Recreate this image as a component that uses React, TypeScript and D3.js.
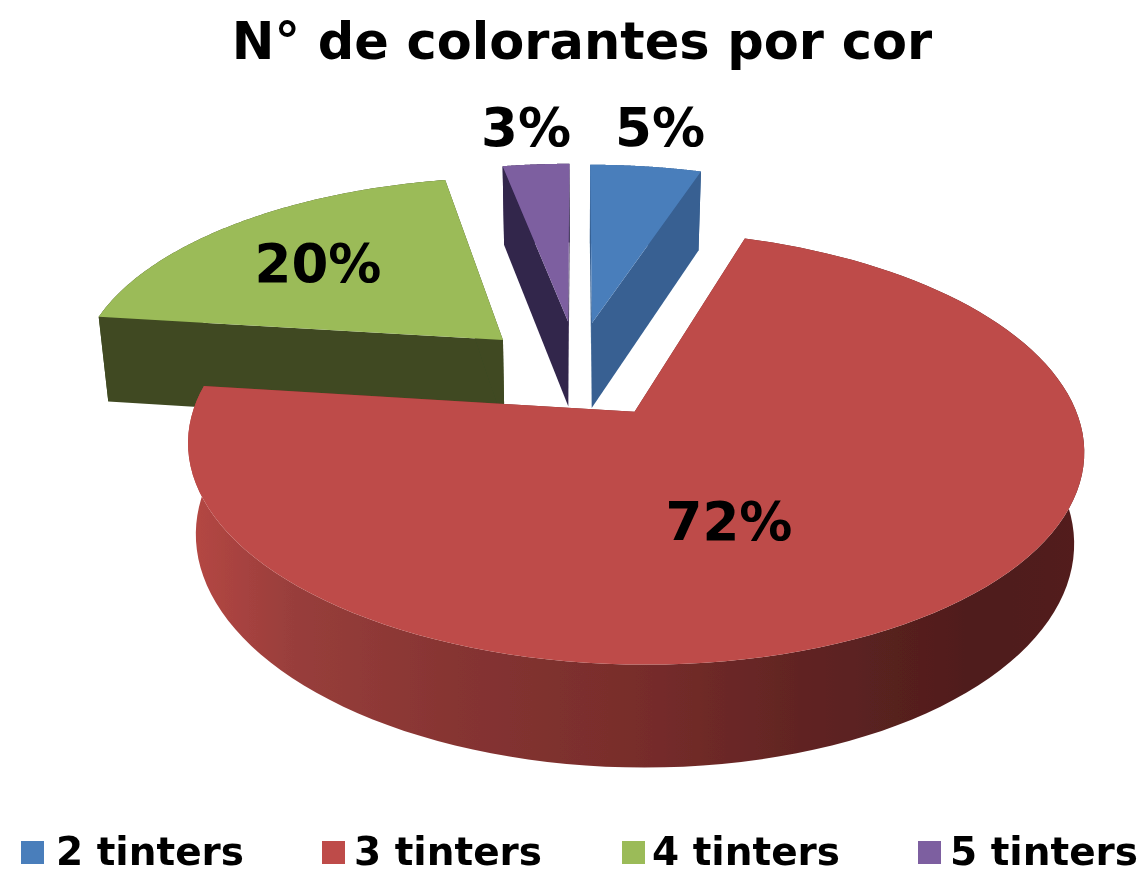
import React from "react";
import * as d3 from "d3";

const categories = ["2 tinters", "3 tinters", "4 tinters", "5 tinters"];
const values = [5, 72, 20, 3];
const percentLabels = ["5%", "72%", "20%", "3%"];
const topColors = ["#4a7ebb", "#be4b48", "#9bbb59", "#7d5fa0"];
const cutColors = ["#376092", "#7a2c2c", "#3f4a21", "#31254c"];
const wallColors = ["#376092", "url(#redWall)", "#3f4a21", "#31254c"];
const title = "N° de colorantes por cor";

// drawing order back to front, and how far each slice is pulled out of the pie
const drawOrder = [2, 3, 0, 1];
const sliceOffsetU = [0.034, 0.128, -0.18, -0.024];
const sliceOffsetV = [-0.243, 0.21, -0.151, -0.25];
const labelPos: [number, number][] = [[660, 146], [729, 540], [318, 282], [526, 146]];
const legendSwatchX = [21, 322, 622, 918];
const legendTextX = [56, 354, 652, 950];

const W = 1147, H = 869;
const CX = 578, CY = 369, A = 427, B = 197, K = 0.16, BOTTOM_SCALE = 0.98;

type P = [number, number];
const project = (u: number, v: number, low: boolean): P => {
  const w = 1 - K * v;
  const depth = 87.3 + 9.93 * v + 2.5 * v * v;
  return [
    CX + (A * u * (low ? BOTTOM_SCALE : 1)) / w,
    CY + (B * v) / w + (low ? depth : 0),
  ];
};

const arcs = d3.pie<number>().sort(null)(values);
const line = d3.line<P>();

function slicePaths(a: d3.PieArcDatum<number>, i: number) {
  const ox = sliceOffsetU[i], oy = sliceOffsetV[i];
  const angles = d3.range(0, 121).map((k) => a.startAngle + ((a.endAngle - a.startAngle) * k) / 120);
  const rim = (low: boolean) => angles.map((t) => project(ox + Math.sin(t), oy - Math.cos(t), low));
  const apex = (low: boolean) => project(ox, oy, low);
  const topRim = rim(false), lowRim = rim(true);
  const n = topRim.length - 1;
  return {
    top: line([apex(false), ...topRim])! + "Z",
    wall: line([...topRim, ...[...lowRim].reverse()])! + "Z",
    cutStart: line([apex(false), topRim[0], lowRim[0], apex(true)])! + "Z",
    cutEnd: line([apex(false), topRim[n], lowRim[n], apex(true)])! + "Z",
  };
}

const font = "'DejaVu Sans', Verdana, sans-serif";

export default function App() {
  return (
    <svg width={W} height={H} viewBox={`0 0 ${W} ${H}`} style={{ position: "absolute", left: 0, top: 0, background: "#fff" }}>
      <defs>
        <linearGradient id="redWall" gradientUnits="userSpaceOnUse" x1="187" x2="1083" y1="0" y2="0">
          <stop offset="0" stopColor="#b64744" />
          <stop offset="0.12" stopColor="#983e3b" />
          <stop offset="0.3" stopColor="#863432" />
          <stop offset="0.5" stopColor="#782d2b" />
          <stop offset="0.7" stopColor="#5f2322" />
          <stop offset="0.88" stopColor="#4f1d1c" />
          <stop offset="1" stopColor="#521e1d" />
        </linearGradient>
        <filter id="soft" x="-2%" y="-2%" width="104%" height="104%">
          <feGaussianBlur stdDeviation="0.7" />
        </filter>
      </defs>
      <g filter="url(#soft)">
        <text x={582} y={59} textAnchor="middle" fontFamily={font} fontWeight="bold" fontSize={51} fill="#000">{title}</text>
        {drawOrder.map((i) => {
          const p = slicePaths(arcs[i], i);
          return (
            <g key={categories[i]}>
              <path d={p.wall} fill={wallColors[i]} />
              <path d={p.cutStart} fill={cutColors[i]} />
              <path d={p.cutEnd} fill={cutColors[i]} />
              <path d={p.top} fill={topColors[i]} />
            </g>
          );
        })}
        {percentLabels.map((t, i) => (
          <text key={t} x={labelPos[i][0]} y={labelPos[i][1]} textAnchor="middle" fontFamily={font} fontWeight="bold" fontSize={53} fill="#000">{t}</text>
        ))}
        {categories.map((c, i) => (
          <g key={c}>
            <rect x={legendSwatchX[i]} y={841} width={23} height={23} fill={topColors[i]} />
            <text x={legendTextX[i]} y={865} fontFamily={font} fontWeight="bold" fontSize={39} fill="#000">{c}</text>
          </g>
        ))}
      </g>
    </svg>
  );
}
